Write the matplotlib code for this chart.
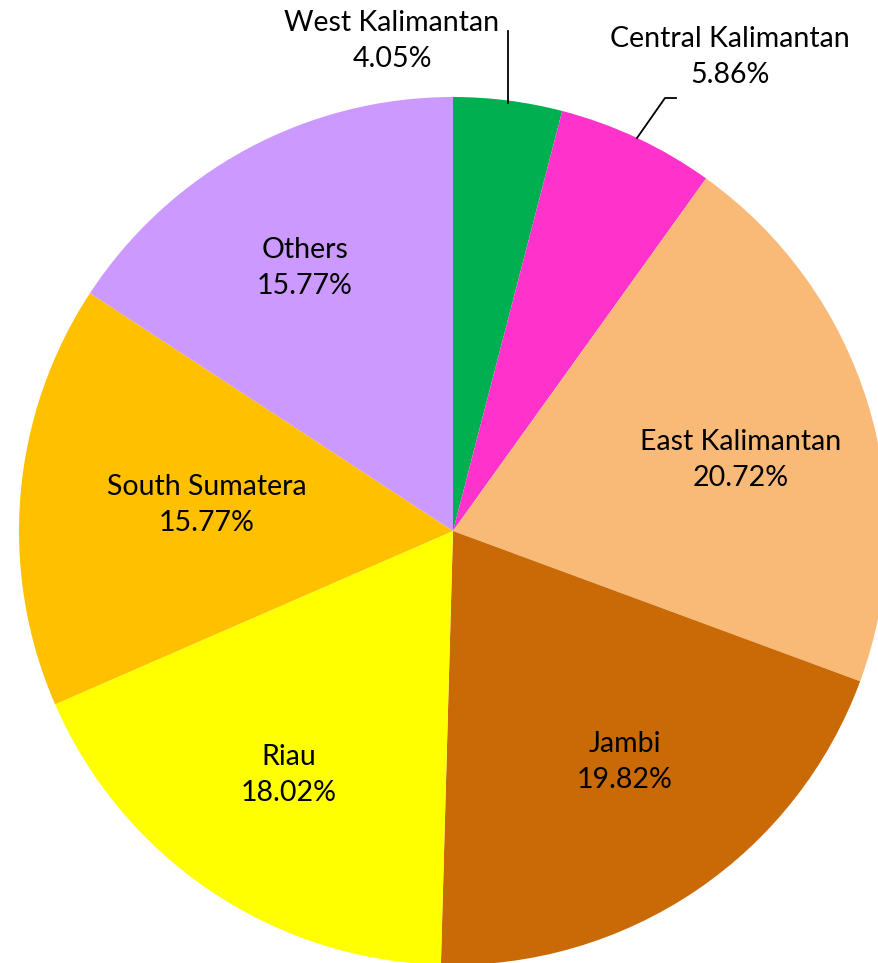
import matplotlib
matplotlib.use("Agg")
import matplotlib.pyplot as plt

categories = ["West Kalimantan", "Central Kalimantan", "East Kalimantan", "Jambi",
              "Riau", "South Sumatera", "Others"]
shares = [4.05, 5.86, 20.72, 19.82, 18.02, 15.77, 15.77]
colors = ["#00B050", "#FF33CC", "#F9BA78", "#C96A06", "#FFFF00", "#FFC000", "#CC99FF"]

W, H = 879, 963
fig = plt.figure(figsize=(W / 100, H / 100), dpi=100)
ax = fig.add_axes([0, 0, 1, 1])

cx, cy, r = 453, H - 531, 434
ax.pie(shares, colors=colors, startangle=90, counterclock=False,
       center=(cx, cy), radius=r, wedgeprops=dict(linewidth=0))
ax.set_xlim(0, W)
ax.set_ylim(0, H)
ax.set_aspect("equal")
ax.axis("off")

# label positions in pixel coordinates (x, y from top)
label_pos = [(392, 41), (730, 57), (741, 460), (625, 762), (289, 775), (207, 505), (305, 268)]
for name, val, (lx, ly) in zip(categories, shares, label_pos):
    ax.text(lx, H - ly, f"{name}\n{val:.2f}%", ha="center", va="center",
            fontsize=20.5, family="Lato", linespacing=1.5, color="black")

# leader lines
ax.plot([508, 508], [H - 103, H - 31], color="black", lw=1.3)
ax.plot([637, 665, 676], [H - 138, H - 98, H - 98], color="black", lw=1.3)

fig.savefig("out.png", dpi=100)
